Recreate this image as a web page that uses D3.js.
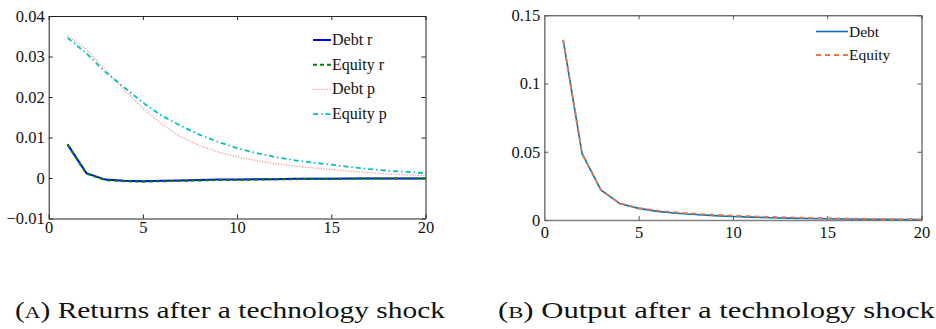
<!DOCTYPE html>
<html><head><meta charset="utf-8">
<script src="https://cdn.jsdelivr.net/npm/d3@7"></script>
<style>body{margin:0;background:#fff}svg{display:block}</style>
</head><body><svg id="c" width="936" height="329"></svg>
<script>
const periods = d3.range(1, 21);
const debtR   = [0.0083,0.0012,-0.0004,-0.0007,-0.0008,-0.0007,-0.0006,-0.0005,-0.0004,-0.0004,-0.0003,-0.0003,-0.0002,-0.0002,-0.0002,-0.0001,-0.0001,-0.0001,-0.0001,-0.0001];
const equityR = [0.0082,0.0011,-0.0005,-0.0008,-0.0009,-0.0008,-0.0007,-0.0006,-0.0005,-0.0005,-0.0004,-0.0003,-0.0003,-0.0002,-0.0002,-0.0002,-0.0001,-0.0001,-0.0001,-0.0001];
const debtP   = [0.0351,0.0318,0.0268,0.0218,0.0172,0.0133,0.0102,0.0080,0.0064,0.0052,0.0043,0.0036,0.0030,0.0025,0.0021,0.0017,0.0013,0.0010,0.0008,0.0006];
const equityP = [0.0346,0.0308,0.0262,0.0224,0.0186,0.0154,0.0129,0.0107,0.0089,0.0074,0.0062,0.0052,0.0044,0.0038,0.0033,0.0027,0.0022,0.0018,0.0015,0.0012];
const debtY   = [0.132,0.0488,0.022,0.012,0.0085,0.0063,0.0050,0.0040,0.0032,0.0026,0.0021,0.0017,0.0014,0.0011,0.0009,0.0007,0.0006,0.0005,0.0004,0.0003];
const equityY = [0.132,0.0488,0.022,0.0122,0.0088,0.0068,0.0056,0.0046,0.0038,0.0032,0.0027,0.0023,0.0019,0.0016,0.0013,0.0011,0.0009,0.0007,0.0006,0.0005];
const xTicks = [0,5,10,15,20];
const yTicksA = [-0.01,0,0.01,0.02,0.03,0.04];
const yTicksB = [0,0.05,0.1,0.15];
const captionA = ["(", "A", ") Returns after a technology shock"];
const captionB = ["(", "B", ") Output after a technology shock"];

const svg = d3.select("#c");
const FONT = "Liberation Serif";

function panel(o){
  const g = svg.append("g");
  const x = d3.scaleLinear().domain([0,20]).range([o.x0,o.x1]);
  const y = d3.scaleLinear().domain(o.yDom).range([o.y1,o.y0]);
  const tl = 4;
  const axB = g.append("g").attr("transform",`translate(0,${o.y1})`)
    .call(d3.axisBottom(x).tickValues(xTicks).tickSizeInner(-tl).tickSizeOuter(0).tickPadding(o.xPad).tickFormat(d3.format("d")));
  const axT = g.append("g").attr("transform",`translate(0,${o.y0})`)
    .call(d3.axisTop(x).tickValues(xTicks).tickSizeInner(-tl).tickSizeOuter(0).tickFormat(""));
  const axL = g.append("g").attr("transform",`translate(${o.x0},0)`)
    .call(d3.axisLeft(y).tickValues(o.yTicks).tickSizeInner(-tl).tickSizeOuter(0).tickPadding(4).tickFormat(o.fmt));
  const axR = g.append("g").attr("transform",`translate(${o.x1},0)`)
    .call(d3.axisRight(y).tickValues(o.yTicks).tickSizeInner(-tl).tickSizeOuter(0).tickFormat(""));
  [axB,axT,axL,axR].forEach(a=>{
    a.selectAll("text").style("font-family",FONT).attr("font-size",o.tickFs).attr("fill","#111");
    a.selectAll("line").attr("stroke",o.tickColor);
    a.select(".domain").attr("stroke",o.boxColor).attr("stroke-width",1);
  });
  axB.select(".domain").attr("stroke",o.mainColor).attr("stroke-width",o.mainW);
  axL.select(".domain").attr("stroke",o.mainColor).attr("stroke-width",o.mainW);
  axB.selectAll("text").attr("dy","0.71em");
  const line = d3.line().x((d,i)=>x(periods[i])).y(d=>y(d));
  o.series.forEach(s=>{
    g.append("path").datum(s.data).attr("d",line).attr("fill","none")
      .attr("stroke",s.color).attr("stroke-width",s.w).attr("stroke-dasharray",s.dash||null);
  });
  o.series.forEach((s,i)=>{
    const yy = o.legY + i*o.legDy;
    g.append("line").attr("x1",o.legX).attr("x2",o.legX+o.legLen).attr("y1",yy).attr("y2",yy)
      .attr("stroke",s.color).attr("stroke-width",s.w).attr("stroke-dasharray",s.dash||null);
    g.append("text").attr("x",o.legX+o.legLen+1).attr("y",yy+5).style("font-family",FONT)
      .attr("font-size",o.legFs).attr("fill","#111").text(s.name);
  });
  const t = svg.append("text").attr("x",o.capX).attr("y",318).style("font-family",FONT)
    .attr("font-size",23).attr("fill","#111");
  t.append("tspan").text(o.cap[0]);
  t.append("tspan").attr("font-size",17).text(o.cap[1]);
  t.append("tspan").text(o.cap[2]);
  t.attr("textLength", o.capW).attr("lengthAdjust","spacingAndGlyphs");
}

panel({x0:48.7,x1:425.5,y0:16,y1:218.5,yDom:[-0.01,0.04],yTicks:yTicksA,
  fmt:d=>d===0?"0":(d<0?"\u22120.01":d3.format(".2f")(d)),
  tickColor:"#222",boxColor:"#222",mainColor:"#222",mainW:1,tickFs:16.5,xPad:3,
  series:[
    {name:"Debt r",data:debtR,color:"#0000ff",w:2},
    {name:"Equity r",data:equityR,color:"#008000",w:2,dash:"4,3"},
    {name:"Debt p",data:debtP,color:"#f79494",w:1.3,dash:"1.2,1.5"},
    {name:"Equity p",data:equityP,color:"#00c0c0",w:1.8,dash:"5,3,1.5,3"}
  ],legX:313,legLen:18,legY:40,legDy:24.7,legFs:16,cap:captionA,capX:15,capW:430});

panel({x0:544.3,x1:921.5,y0:15.3,y1:220,yDom:[0,0.15],yTicks:yTicksB,
  fmt:d=>d===0?"0":String(d),
  tickColor:"#555",boxColor:"#333",mainColor:"#808080",mainW:1.6,tickFs:16.5,xPad:6,
  series:[
    {name:"Debt",data:debtY,color:"#0072bd",w:1.6},
    {name:"Equity",data:equityY,color:"#e6784a",w:1.8,dash:"5,4"}
  ],legX:816,legLen:32,legY:31.5,legDy:23.5,legFs:15.5,cap:captionB,capX:498,capW:437});
</script></body></html>
